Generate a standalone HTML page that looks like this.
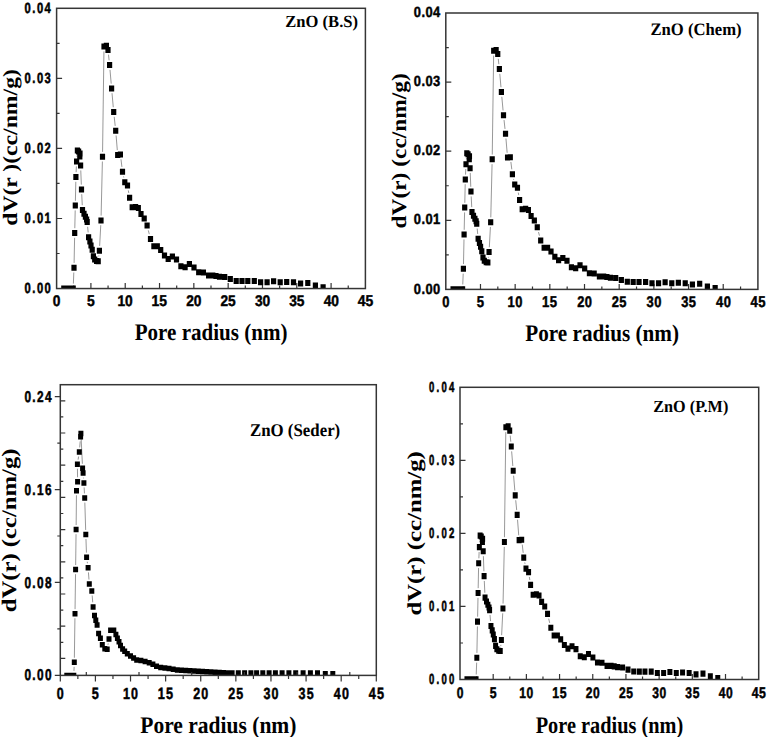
<!DOCTYPE html><html><head><meta charset="utf-8"><style>html,body{margin:0;padding:0;background:#fff;}svg{display:block} text{text-rendering:geometricPrecision}</style></head><body>
<svg width="767" height="737" viewBox="0 0 767 737">
<rect width="767" height="737" fill="#fff"/>
<defs>
<clipPath id="c1"><rect x="56.6" y="8.3" width="308.8" height="280.25"/></clipPath>
<clipPath id="c2"><rect x="445.8" y="13" width="312.1" height="276.4"/></clipPath>
<clipPath id="c3"><rect x="60.3" y="384.7" width="316" height="290.7"/></clipPath>
<clipPath id="c4"><rect x="460" y="387.3" width="298.7" height="292.2"/></clipPath>
</defs>
<path d="M73.76 288.55v-3M90.91 288.55v-5.5M108.07 288.55v-3M125.22 288.55v-5.5M142.38 288.55v-3M159.53 288.55v-5.5M176.69 288.55v-3M193.84 288.55v-5.5M211 288.55v-3M228.16 288.55v-5.5M245.31 288.55v-3M262.47 288.55v-5.5M279.62 288.55v-3M296.78 288.55v-5.5M313.93 288.55v-3M331.09 288.55v-5.5M348.24 288.55v-3M56.6 253.52h3M56.6 218.49h5.5M56.6 183.46h3M56.6 148.43h5.5M56.6 113.39h3M56.6 78.36h5.5M56.6 43.33h3" stroke="#353535" stroke-width="1.2" fill="none"/>
<g clip-path="url(#c1)">
<path d="M73.39 283.6L73.81 272.5M74.1 262.9L74.6 237.8M74.81 228.2L75.19 210.4M75.4 200.8L75.8 181.8M76.12 172.2L76.38 166.4M76.95 156.8L77.05 155.4M80.78 170.4L81.32 184.6M81.73 194.2L82.27 205.2M87.64 226.79L88.16 232.41M98.75 256.41L98.85 255.49M99.65 245.9L100.75 225.2M101.11 215.6L102.39 161.5M102.57 151.9L103.93 51.4M108.5 54.69L109.1 60.31M110.01 69.89L111.19 83.61M112.03 93.19L113.27 107.21M114.21 116.79L115.19 125.91M116.1 135.49L117.3 150.11M120.98 159.29L121.92 166.91M123.54 176.46L123.76 177.44M128.32 190.37L128.78 193.03M148.31 230.34L149.29 234.16" stroke="#8c8c8c" stroke-width="0.9" fill="none"/>
<path d="M61.2 285.4h5.2v6h-5.2zM63.6 285.4h5.2v6h-5.2zM65.9 285.4h5.2v6h-5.2zM68.3 285.4h5.2v6h-5.2zM70.6 285.4h5.2v6h-5.2zM71.4 264.7h5.2v6h-5.2zM72.1 230h5.2v6h-5.2zM72.7 202.6h5.2v6h-5.2zM73.3 174h5.2v6h-5.2zM74 158.6h5.2v6h-5.2zM74.8 147.6h5.2v6h-5.2zM76 148.4h5.2v6h-5.2zM77.4 150.5h5.2v6h-5.2zM77.2 153.6h5.2v6h-5.2zM78 162.6h5.2v6h-5.2zM78.9 186.4h5.2v6h-5.2zM79.9 207h5.2v6h-5.2zM81.4 210.8h5.2v6h-5.2zM82.8 213.8h5.2v6h-5.2zM84 216.5h5.2v6h-5.2zM84.6 219h5.2v6h-5.2zM86 234.2h5.2v6h-5.2zM87.3 238.4h5.2v6h-5.2zM88.4 242.4h5.2v6h-5.2zM89.6 246.8h5.2v6h-5.2zM90.8 253.3h5.2v6h-5.2zM92.1 256.6h5.2v6h-5.2zM94 258h5.2v6h-5.2zM95.6 258.2h5.2v6h-5.2zM96.8 247.7h5.2v6h-5.2zM98.4 217.4h5.2v6h-5.2zM99.9 153.7h5.2v6h-5.2zM101.4 43.6h5.2v6h-5.2zM103.8 42.7h5.2v6h-5.2zM105.4 46.9h5.2v6h-5.2zM107 62.1h5.2v6h-5.2zM109 85.4h5.2v6h-5.2zM111.1 109h5.2v6h-5.2zM113.1 127.7h5.2v6h-5.2zM115.1 151.9h5.2v6h-5.2zM117.8 151.5h5.2v6h-5.2zM119.9 168.7h5.2v6h-5.2zM122.2 179.2h5.2v6h-5.2zM124.9 182.6h5.2v6h-5.2zM127 194.8h5.2v6h-5.2zM129.6 204.3h5.2v6h-5.2zM133 203.9h5.2v6h-5.2zM135.7 205h5.2v6h-5.2zM138.4 211.1h5.2v6h-5.2zM141.6 215.6h5.2v6h-5.2zM144.5 222.6h5.2v6h-5.2zM147.9 235.9h5.2v6h-5.2zM151.3 243.3h5.2v6h-5.2zM154.7 243.3h5.2v6h-5.2zM158.1 247.1h5.2v6h-5.2zM161.9 252.5h5.2v6h-5.2zM165.6 255.9h5.2v6h-5.2zM169.8 253.6h5.2v6h-5.2zM173.9 256.4h5.2v6h-5.2zM178.3 263.2h5.2v6h-5.2zM182.5 264.2h5.2v6h-5.2zM186.8 261.1h5.2v6h-5.2zM191.4 264.4h5.2v6h-5.2zM196.1 269.3h5.2v6h-5.2zM200.8 269.5h5.2v6h-5.2zM206 272.5h5.2v6h-5.2zM210.2 272.5h5.2v6h-5.2zM213.4 273h5.2v6h-5.2zM216.9 273.7h5.2v6h-5.2zM222.1 274h5.2v6h-5.2zM227.7 276.1h5.2v6h-5.2zM233.6 277.9h5.2v6h-5.2zM239.4 278h5.2v6h-5.2zM245.2 278h5.2v6h-5.2zM251.7 278h5.2v6h-5.2zM258 279.3h5.2v6h-5.2zM264.5 279.3h5.2v6h-5.2zM271 278.3h5.2v6h-5.2zM277.6 279.3h5.2v6h-5.2zM284.1 278.9h5.2v6h-5.2zM290.9 279.3h5.2v6h-5.2zM298 280.6h5.2v6h-5.2zM305.2 279.9h5.2v6h-5.2zM312.8 282.6h5.2v6h-5.2zM320.5 284.2h5.2v6h-5.2z" fill="#000"/>
</g>
<rect x="56.6" y="8.3" width="308.8" height="280.25" fill="none" stroke="#353535" stroke-width="1.5"/>
<text transform="translate(52.78,306.47) scale(0.892,1)" font-family='"Liberation Sans", sans-serif' font-weight="bold" font-size="15.42" letter-spacing="-0.21" stroke="#000" stroke-width="0.45">0</text>
<text transform="translate(87.01,306.47) scale(0.892,1)" font-family='"Liberation Sans", sans-serif' font-weight="bold" font-size="15.64" letter-spacing="-0.21" stroke="#000" stroke-width="0.45">5</text>
<text transform="translate(117.51,306.47) scale(0.892,1)" font-family='"Liberation Sans", sans-serif' font-weight="bold" font-size="15.42" letter-spacing="-0.21" stroke="#000" stroke-width="0.45">10</text>
<text transform="translate(151.61,306.47) scale(0.892,1)" font-family='"Liberation Sans", sans-serif' font-weight="bold" font-size="15.64" letter-spacing="-0.21" stroke="#000" stroke-width="0.45">15</text>
<text transform="translate(186.34,306.47) scale(0.892,1)" font-family='"Liberation Sans", sans-serif' font-weight="bold" font-size="15.42" letter-spacing="-0.21" stroke="#000" stroke-width="0.45">20</text>
<text transform="translate(220.55,306.47) scale(0.892,1)" font-family='"Liberation Sans", sans-serif' font-weight="bold" font-size="15.42" letter-spacing="-0.21" stroke="#000" stroke-width="0.45">25</text>
<text transform="translate(255.03,306.47) scale(0.892,1)" font-family='"Liberation Sans", sans-serif' font-weight="bold" font-size="15.42" letter-spacing="-0.21" stroke="#000" stroke-width="0.45">30</text>
<text transform="translate(289.24,306.47) scale(0.892,1)" font-family='"Liberation Sans", sans-serif' font-weight="bold" font-size="15.42" letter-spacing="-0.21" stroke="#000" stroke-width="0.45">35</text>
<text transform="translate(323.72,306.47) scale(0.892,1)" font-family='"Liberation Sans", sans-serif' font-weight="bold" font-size="15.42" letter-spacing="-0.21" stroke="#000" stroke-width="0.45">40</text>
<text transform="translate(357.82,306.47) scale(0.892,1)" font-family='"Liberation Sans", sans-serif' font-weight="bold" font-size="15.64" letter-spacing="-0.21" stroke="#000" stroke-width="0.45">45</text>
<text transform="translate(24.6,292.89) scale(0.761,1)" font-family='"Liberation Sans", sans-serif' font-weight="bold" font-size="14.75" letter-spacing="1.93" stroke="#000" stroke-width="0.53">0.00</text>
<text transform="translate(24.6,222.83) scale(0.761,1)" font-family='"Liberation Sans", sans-serif' font-weight="bold" font-size="14.75" letter-spacing="1.93" stroke="#000" stroke-width="0.53">0.01</text>
<text transform="translate(24.6,152.76) scale(0.761,1)" font-family='"Liberation Sans", sans-serif' font-weight="bold" font-size="14.75" letter-spacing="1.93" stroke="#000" stroke-width="0.53">0.02</text>
<text transform="translate(24.6,82.7) scale(0.761,1)" font-family='"Liberation Sans", sans-serif' font-weight="bold" font-size="14.75" letter-spacing="1.93" stroke="#000" stroke-width="0.53">0.03</text>
<text transform="translate(24.6,12.64) scale(0.761,1)" font-family='"Liberation Sans", sans-serif' font-weight="bold" font-size="14.75" letter-spacing="1.93" stroke="#000" stroke-width="0.53">0.04</text>
<text transform="translate(134.68,340) scale(0.885,1)" font-family='"Liberation Serif", serif' font-weight="bold" font-size="23.80">Pore radius (nm)</text>
<text transform="translate(16.8,225.75) rotate(-90) scale(0.2366,0.2044)" font-family='"Liberation Serif", serif' font-weight="bold" font-size="100">dV(r )(cc/nm/g)</text>
<text transform="translate(285.27,26.6) scale(0.975,1)" font-family='"Liberation Serif", serif' font-weight="bold" font-size="17.00">ZnO (B.S)</text>
<path d="M463.14 289.4v-3M480.48 289.4v-5.5M497.82 289.4v-3M515.16 289.4v-5.5M532.49 289.4v-3M549.83 289.4v-5.5M567.17 289.4v-3M584.51 289.4v-5.5M601.85 289.4v-3M619.19 289.4v-5.5M636.53 289.4v-3M653.87 289.4v-5.5M671.21 289.4v-3M688.54 289.4v-5.5M705.88 289.4v-3M723.22 289.4v-5.5M740.56 289.4v-3M445.8 254.85h3M445.8 220.3h5.5M445.8 185.75h3M445.8 151.2h5.5M445.8 116.65h3M445.8 82.1h5.5M445.8 47.55h3" stroke="#353535" stroke-width="1.2" fill="none"/>
<g clip-path="url(#c2)">
<path d="M462.77 284.45L463.2 273.64M463.49 264.04L463.99 239.41M464.2 229.81L464.59 212.39M464.8 202.79L465.2 184.18M465.53 174.58L465.79 168.99M466.37 159.4L466.46 158.14M470.24 172.94L470.78 186.81M471.2 196.41L471.74 207.13M477.18 228.56L477.69 233.96M488.41 257.64L488.5 256.86M489.32 247.27L490.41 226.98M490.79 217.39L492.07 164.16M492.26 154.56L493.64 55.57M498.27 58.82L498.85 64.23M499.79 73.81L500.97 87.21M501.82 96.79L503.07 110.48M504.04 120.06L505.01 128.93M505.94 138.51L507.15 152.79M510.88 161.98L511.81 169.37M513.47 178.91L513.66 179.75M518.3 192.64L518.74 195.12M538.51 232.06L539.46 235.69" stroke="#8c8c8c" stroke-width="0.9" fill="none"/>
<path d="M450.48 286.25h5.2v6h-5.2zM452.9 286.25h5.2v6h-5.2zM455.23 286.25h5.2v6h-5.2zM457.65 286.25h5.2v6h-5.2zM459.98 286.25h5.2v6h-5.2zM460.79 265.84h5.2v6h-5.2zM461.49 231.61h5.2v6h-5.2zM462.1 204.59h5.2v6h-5.2zM462.71 176.38h5.2v6h-5.2zM463.41 161.19h5.2v6h-5.2zM464.22 150.35h5.2v6h-5.2zM465.44 151.13h5.2v6h-5.2zM466.85 153.21h5.2v6h-5.2zM466.65 156.26h5.2v6h-5.2zM467.46 165.14h5.2v6h-5.2zM468.37 188.61h5.2v6h-5.2zM469.38 208.93h5.2v6h-5.2zM470.89 212.68h5.2v6h-5.2zM472.31 215.64h5.2v6h-5.2zM473.52 218.3h5.2v6h-5.2zM474.13 220.76h5.2v6h-5.2zM475.54 235.76h5.2v6h-5.2zM476.86 239.9h5.2v6h-5.2zM477.97 243.84h5.2v6h-5.2zM479.18 248.18h5.2v6h-5.2zM480.39 254.59h5.2v6h-5.2zM481.71 257.85h5.2v6h-5.2zM483.63 259.23h5.2v6h-5.2zM485.24 259.43h5.2v6h-5.2zM486.46 249.07h5.2v6h-5.2zM488.07 219.19h5.2v6h-5.2zM489.59 156.36h5.2v6h-5.2zM491.11 47.77h5.2v6h-5.2zM493.53 46.89h5.2v6h-5.2zM495.15 51.03h5.2v6h-5.2zM496.77 66.02h5.2v6h-5.2zM498.79 89h5.2v6h-5.2zM500.91 112.28h5.2v6h-5.2zM502.93 130.72h5.2v6h-5.2zM504.95 154.59h5.2v6h-5.2zM507.68 154.19h5.2v6h-5.2zM509.8 171.16h5.2v6h-5.2zM512.13 181.51h5.2v6h-5.2zM514.86 184.86h5.2v6h-5.2zM516.98 196.9h5.2v6h-5.2zM519.61 206.27h5.2v6h-5.2zM523.04 205.87h5.2v6h-5.2zM525.77 206.96h5.2v6h-5.2zM528.5 212.97h5.2v6h-5.2zM531.74 217.41h5.2v6h-5.2zM534.67 224.31h5.2v6h-5.2zM538.1 237.43h5.2v6h-5.2zM541.54 244.73h5.2v6h-5.2zM544.98 244.73h5.2v6h-5.2zM548.41 248.48h5.2v6h-5.2zM552.25 253.8h5.2v6h-5.2zM555.99 257.16h5.2v6h-5.2zM560.24 254.89h5.2v6h-5.2zM564.38 257.65h5.2v6h-5.2zM568.83 264.36h5.2v6h-5.2zM573.07 265.34h5.2v6h-5.2zM577.42 262.29h5.2v6h-5.2zM582.07 265.54h5.2v6h-5.2zM586.82 270.37h5.2v6h-5.2zM591.57 270.57h5.2v6h-5.2zM596.82 273.53h5.2v6h-5.2zM601.07 273.53h5.2v6h-5.2zM604.3 274.02h5.2v6h-5.2zM607.84 274.71h5.2v6h-5.2zM613.1 275.01h5.2v6h-5.2zM618.76 277.08h5.2v6h-5.2zM624.72 278.86h5.2v6h-5.2zM630.58 278.95h5.2v6h-5.2zM636.44 278.95h5.2v6h-5.2zM643.01 278.95h5.2v6h-5.2zM649.38 280.24h5.2v6h-5.2zM655.95 280.24h5.2v6h-5.2zM662.52 279.25h5.2v6h-5.2zM669.19 280.24h5.2v6h-5.2zM675.76 279.84h5.2v6h-5.2zM682.63 280.24h5.2v6h-5.2zM689.81 281.52h5.2v6h-5.2zM697.08 280.83h5.2v6h-5.2zM704.77 283.49h5.2v6h-5.2zM712.55 285.07h5.2v6h-5.2z" fill="#000"/>
</g>
<rect x="445.8" y="13" width="312.1" height="276.4" fill="none" stroke="#353535" stroke-width="1.5"/>
<text transform="translate(442.22,307.06) scale(0.839,1)" font-family='"Liberation Sans", sans-serif' font-weight="bold" font-size="15.38" letter-spacing="0.55" stroke="#000" stroke-width="0.48">0</text>
<text transform="translate(476.81,307.06) scale(0.839,1)" font-family='"Liberation Sans", sans-serif' font-weight="bold" font-size="15.60" letter-spacing="0.55" stroke="#000" stroke-width="0.48">5</text>
<text transform="translate(507.6,307.06) scale(0.839,1)" font-family='"Liberation Sans", sans-serif' font-weight="bold" font-size="15.38" letter-spacing="0.55" stroke="#000" stroke-width="0.48">10</text>
<text transform="translate(542.07,307.06) scale(0.839,1)" font-family='"Liberation Sans", sans-serif' font-weight="bold" font-size="15.60" letter-spacing="0.55" stroke="#000" stroke-width="0.48">15</text>
<text transform="translate(577.15,307.06) scale(0.839,1)" font-family='"Liberation Sans", sans-serif' font-weight="bold" font-size="15.38" letter-spacing="0.55" stroke="#000" stroke-width="0.48">20</text>
<text transform="translate(611.73,307.06) scale(0.839,1)" font-family='"Liberation Sans", sans-serif' font-weight="bold" font-size="15.38" letter-spacing="0.55" stroke="#000" stroke-width="0.48">25</text>
<text transform="translate(646.57,307.06) scale(0.839,1)" font-family='"Liberation Sans", sans-serif' font-weight="bold" font-size="15.38" letter-spacing="0.55" stroke="#000" stroke-width="0.48">30</text>
<text transform="translate(681.15,307.06) scale(0.839,1)" font-family='"Liberation Sans", sans-serif' font-weight="bold" font-size="15.38" letter-spacing="0.55" stroke="#000" stroke-width="0.48">35</text>
<text transform="translate(715.99,307.06) scale(0.839,1)" font-family='"Liberation Sans", sans-serif' font-weight="bold" font-size="15.38" letter-spacing="0.55" stroke="#000" stroke-width="0.48">40</text>
<text transform="translate(750.47,307.06) scale(0.839,1)" font-family='"Liberation Sans", sans-serif' font-weight="bold" font-size="15.60" letter-spacing="0.55" stroke="#000" stroke-width="0.48">45</text>
<text transform="translate(413.83,293.52) scale(0.870,1)" font-family='"Liberation Sans", sans-serif' font-weight="bold" font-size="14.85" letter-spacing="0.49" stroke="#000" stroke-width="0.46">0.00</text>
<text transform="translate(413.83,224.42) scale(0.870,1)" font-family='"Liberation Sans", sans-serif' font-weight="bold" font-size="14.85" letter-spacing="0.49" stroke="#000" stroke-width="0.46">0.01</text>
<text transform="translate(413.83,155.32) scale(0.870,1)" font-family='"Liberation Sans", sans-serif' font-weight="bold" font-size="14.85" letter-spacing="0.49" stroke="#000" stroke-width="0.46">0.02</text>
<text transform="translate(413.83,86.22) scale(0.870,1)" font-family='"Liberation Sans", sans-serif' font-weight="bold" font-size="14.85" letter-spacing="0.49" stroke="#000" stroke-width="0.46">0.03</text>
<text transform="translate(413.83,17.12) scale(0.870,1)" font-family='"Liberation Sans", sans-serif' font-weight="bold" font-size="14.85" letter-spacing="0.49" stroke="#000" stroke-width="0.46">0.04</text>
<text transform="translate(525.28,340.5) scale(0.890,1)" font-family='"Liberation Serif", serif' font-weight="bold" font-size="23.80">Pore radius (nm)</text>
<text transform="translate(405.53,228.43) rotate(-90) scale(0.2337,0.2077)" font-family='"Liberation Serif", serif' font-weight="bold" font-size="100">dV(r) (cc/nm/g)</text>
<text transform="translate(650.47,35) scale(0.957,1)" font-family='"Liberation Serif", serif' font-weight="bold" font-size="17.40">ZnO (Chem)</text>
<g clip-path="url(#c3)">
<path d="M73.97 670.85L74.13 666.85M74.37 657.75L74.93 618.25M75.06 609.15L75.54 574.15M75.66 565.05L76.04 534.15M76.15 525.05L76.45 495.25M77.55 477.25L77.45 468.75M78.11 459.67L78.59 456.53M79.69 447.46L80.21 441.34M81.12 438.15L82.38 463.75M83.47 477.64L83.53 478.36M84.14 487.45L84.46 493.45M84.84 502.55L85.66 529.95M85.96 539.05L86.44 552.65M87.24 561.73L87.46 563.27M88.43 572.35L88.97 579.55M92.17 595.44L92.73 602.36M107.98 644.78L108.22 643.42" stroke="#8c8c8c" stroke-width="0.9" fill="none"/>
<path d="M64.3 672.65h5v5.5h-5zM66.1 672.65h5v5.5h-5zM67.9 672.65h5v5.5h-5zM69.7 672.65h5v5.5h-5zM71.3 672.65h5v5.5h-5zM71.8 659.55h5v5.5h-5zM72.5 610.95h5v5.5h-5zM73.1 566.85h5v5.5h-5zM73.6 526.85h5v5.5h-5zM74 487.95h5v5.5h-5zM75.1 479.05h5v5.5h-5zM74.9 461.45h5v5.5h-5zM76.8 449.25h5v5.5h-5zM78.1 434.05h5v5.5h-5zM78.4 430.85h5v5.5h-5zM80.1 465.55h5v5.5h-5zM80.6 470.35h5v5.5h-5zM81.4 480.15h5v5.5h-5zM82.2 495.25h5v5.5h-5zM83.3 531.75h5v5.5h-5zM84.1 554.45h5v5.5h-5zM85.6 565.05h5v5.5h-5zM86.8 581.35h5v5.5h-5zM89.3 588.15h5v5.5h-5zM90.6 604.15h5v5.5h-5zM92 612.65h5v5.5h-5zM93.3 617.55h5v5.5h-5zM94.6 622.35h5v5.5h-5zM96.1 630.85h5v5.5h-5zM97.9 635.45h5v5.5h-5zM99.8 641.95h5v5.5h-5zM102.3 646.05h5v5.5h-5zM104.7 646.55h5v5.5h-5zM106.5 636.15h5v5.5h-5zM108.1 627.55h5v5.5h-5zM111.3 627.55h5v5.5h-5zM113.4 631.75h5v5.5h-5zM114.9 635.45h5v5.5h-5zM116.5 639.05h5v5.5h-5zM118 642.75h5v5.5h-5zM120.1 646.35h5v5.5h-5zM122.2 648.45h5v5.5h-5zM124.8 651.05h5v5.5h-5zM128 653.15h5v5.5h-5zM131.1 655.25h5v5.5h-5zM134.2 657.35h5v5.5h-5zM138.4 657.85h5v5.5h-5zM142.6 658.85h5v5.5h-5zM146.7 659.95h5v5.5h-5zM150.4 661.45h5v5.5h-5zM154 663.55h5v5.5h-5zM158.2 664.65h5v5.5h-5zM162.4 665.15h5v5.5h-5zM166.5 665.85h5v5.5h-5zM170.7 666.55h5v5.5h-5zM174.8 667.25h5v5.5h-5zM179 667.49h5v5.5h-5zM183.2 667.74h5v5.5h-5zM187.4 667.98h5v5.5h-5zM191.6 668.22h5v5.5h-5zM195.8 668.47h5v5.5h-5zM200 668.71h5v5.5h-5zM204.2 668.96h5v5.5h-5zM208.4 669.2h5v5.5h-5zM212.6 669.44h5v5.5h-5zM216.8 669.69h5v5.5h-5zM221 669.93h5v5.5h-5zM225.2 670.17h5v5.5h-5zM229.6 670.25h5v5.5h-5zM235.8 670.25h5v5.5h-5zM242.1 670.25h5v5.5h-5zM248.4 670.25h5v5.5h-5zM254.1 670.25h5v5.5h-5zM260.3 670.25h5v5.5h-5zM266.6 670.25h5v5.5h-5zM272.9 670.25h5v5.5h-5zM279.6 670.25h5v5.5h-5zM286.4 670.25h5v5.5h-5zM293.2 670.25h5v5.5h-5zM300.6 670.25h5v5.5h-5zM307.9 670.25h5v5.5h-5zM315 670.25h5v5.5h-5zM322.8 671.05h5v5.5h-5zM330.3 671.05h5v5.5h-5z" fill="#000"/>
</g>
<rect x="60.3" y="384.7" width="316" height="290.7" fill="none" stroke="#353535" stroke-width="1.5"/>
<path d="M60.3 675.4v6.2M77.86 675.4v3.5M95.41 675.4v6.2M112.97 675.4v3.5M130.52 675.4v6.2M148.08 675.4v3.5M165.63 675.4v6.2M183.19 675.4v3.5M200.74 675.4v6.2M218.3 675.4v3.5M235.86 675.4v6.2M253.41 675.4v3.5M270.97 675.4v6.2M288.52 675.4v3.5M306.08 675.4v6.2M323.63 675.4v3.5M341.19 675.4v6.2M358.74 675.4v3.5M376.3 675.4v6.2M86.3 675.4v-3.5M139 675.4v-3.5M191.7 675.4v-3.5M244.4 675.4v-3.5M297.1 675.4v-3.5M349.8 675.4v-3.5M60.3 675.4h-5.5M60.3 582.47h-5.5M60.3 489.53h-5.5M60.3 396.6h-5.5M60.3 628.93h-3M60.3 536h-3M60.3 443.07h-3M60.3 400.8h5M60.3 416.9h3M60.3 433h5M60.3 449.1h3M60.3 465.2h5M60.3 481.3h3M60.3 497.4h5M60.3 513.5h3M60.3 529.6h5M60.3 545.7h3M60.3 561.8h5M60.3 577.9h3M60.3 594h5M60.3 610.1h3M60.3 626.2h5M60.3 642.3h3M60.3 658.4h5" stroke="#353535" stroke-width="1.2" fill="none"/>
<text transform="translate(56.83,698.58) scale(0.772,1)" font-family='"Liberation Sans", sans-serif' font-weight="bold" font-size="16.17" letter-spacing="1.40" stroke="#000" stroke-width="0.52">0</text>
<text transform="translate(91.86,698.58) scale(0.772,1)" font-family='"Liberation Sans", sans-serif' font-weight="bold" font-size="16.40" letter-spacing="1.40" stroke="#000" stroke-width="0.52">5</text>
<text transform="translate(122.89,698.58) scale(0.772,1)" font-family='"Liberation Sans", sans-serif' font-weight="bold" font-size="16.17" letter-spacing="1.40" stroke="#000" stroke-width="0.52">10</text>
<text transform="translate(157.81,698.58) scale(0.772,1)" font-family='"Liberation Sans", sans-serif' font-weight="bold" font-size="16.40" letter-spacing="1.40" stroke="#000" stroke-width="0.52">15</text>
<text transform="translate(193.3,698.58) scale(0.772,1)" font-family='"Liberation Sans", sans-serif' font-weight="bold" font-size="16.17" letter-spacing="1.40" stroke="#000" stroke-width="0.52">20</text>
<text transform="translate(228.32,698.58) scale(0.772,1)" font-family='"Liberation Sans", sans-serif' font-weight="bold" font-size="16.17" letter-spacing="1.40" stroke="#000" stroke-width="0.52">25</text>
<text transform="translate(263.59,698.58) scale(0.772,1)" font-family='"Liberation Sans", sans-serif' font-weight="bold" font-size="16.17" letter-spacing="1.40" stroke="#000" stroke-width="0.52">30</text>
<text transform="translate(298.61,698.58) scale(0.772,1)" font-family='"Liberation Sans", sans-serif' font-weight="bold" font-size="16.17" letter-spacing="1.40" stroke="#000" stroke-width="0.52">35</text>
<text transform="translate(333.87,698.58) scale(0.772,1)" font-family='"Liberation Sans", sans-serif' font-weight="bold" font-size="16.17" letter-spacing="1.40" stroke="#000" stroke-width="0.52">40</text>
<text transform="translate(368.79,698.58) scale(0.772,1)" font-family='"Liberation Sans", sans-serif' font-weight="bold" font-size="16.40" letter-spacing="1.40" stroke="#000" stroke-width="0.52">45</text>
<text transform="translate(24.38,680.48) scale(0.760,1)" font-family='"Liberation Sans", sans-serif' font-weight="bold" font-size="15.60" letter-spacing="1.81" stroke="#000" stroke-width="0.53">0.00</text>
<text transform="translate(24.38,587.55) scale(0.760,1)" font-family='"Liberation Sans", sans-serif' font-weight="bold" font-size="15.60" letter-spacing="1.81" stroke="#000" stroke-width="0.53">0.08</text>
<text transform="translate(24.38,494.61) scale(0.760,1)" font-family='"Liberation Sans", sans-serif' font-weight="bold" font-size="15.60" letter-spacing="1.81" stroke="#000" stroke-width="0.53">0.16</text>
<text transform="translate(24.38,401.68) scale(0.760,1)" font-family='"Liberation Sans", sans-serif' font-weight="bold" font-size="15.60" letter-spacing="1.81" stroke="#000" stroke-width="0.53">0.24</text>
<text transform="translate(140.28,732.7) scale(0.904,1)" font-family='"Liberation Serif", serif' font-weight="bold" font-size="23.80">Pore radius (nm)</text>
<text transform="translate(15.85,612.29) rotate(-90) scale(0.2467,0.2066)" font-family='"Liberation Serif", serif' font-weight="bold" font-size="100">dV(r) (cc/nm/g)</text>
<text transform="translate(249.96,436.1) scale(0.941,1)" font-family='"Liberation Serif", serif' font-weight="bold" font-size="17.90">ZnO (Seder)</text>
<path d="M476.59 679.5v-3M493.19 679.5v-5.5M509.78 679.5v-3M526.38 679.5v-5.5M542.97 679.5v-3M559.57 679.5v-5.5M576.16 679.5v-3M592.76 679.5v-5.5M609.35 679.5v-3M625.94 679.5v-5.5M642.54 679.5v-3M659.13 679.5v-5.5M675.73 679.5v-3M692.32 679.5v-5.5M708.92 679.5v-3M725.51 679.5v-5.5M742.11 679.5v-3M460 642.98h3M460 606.45h5.5M460 569.92h3M460 533.4h5.5M460 496.88h3M460 460.35h5.5M460 423.82h3" stroke="#353535" stroke-width="1.2" fill="none"/>
<g clip-path="url(#c4)">
<path d="M476.23 674.49L476.66 662.61M476.92 652.91L477.42 626.43M477.61 616.73L477.99 597.86M478.18 588.16L478.57 568.04M478.87 558.35L479.14 551.99M479.67 542.29L479.79 540.51M483.39 556.16L483.92 571.27M484.3 580.97L484.83 592.75M490.01 614.96L490.54 621.12M500.75 646.14L500.89 644.88M501.64 635.19L502.71 613.29M503.05 603.59L504.29 546.88M504.46 537.18L505.79 432.08M510.19 435.52L510.79 441.68M511.65 451.37L512.82 465.97M513.6 475.66L514.83 490.58M515.71 500.26L516.69 510.08M517.54 519.76L518.73 535.31M522.26 544.57L523.2 552.83M524.72 562.48L524.99 563.8M529.35 576.99L529.84 580.05M548.68 618.67L549.69 622.93" stroke="#8c8c8c" stroke-width="0.9" fill="none"/>
<path d="M464.46 676.29h5v6.1h-5zM466.79 676.29h5v6.1h-5zM469.01 676.29h5v6.1h-5zM471.33 676.29h5v6.1h-5zM473.56 676.29h5v6.1h-5zM474.33 654.71h5v6.1h-5zM475.01 618.53h5v6.1h-5zM475.59 589.96h5v6.1h-5zM476.17 560.14h5v6.1h-5zM476.85 544.09h5v6.1h-5zM477.62 532.62h5v6.1h-5zM478.78 533.45h5v6.1h-5zM480.13 535.64h5v6.1h-5zM479.94 538.87h5v6.1h-5zM480.72 548.26h5v6.1h-5zM481.59 573.07h5v6.1h-5zM482.55 594.55h5v6.1h-5zM484 598.51h5v6.1h-5zM485.36 601.64h5v6.1h-5zM486.52 604.46h5v6.1h-5zM487.1 607.06h5v6.1h-5zM488.45 622.91h5v6.1h-5zM489.71 627.29h5v6.1h-5zM490.77 631.46h5v6.1h-5zM491.94 636.05h5v6.1h-5zM493.1 642.82h5v6.1h-5zM494.35 646.27h5v6.1h-5zM496.19 647.73h5v6.1h-5zM497.74 647.93h5v6.1h-5zM498.9 636.99h5v6.1h-5zM500.45 605.39h5v6.1h-5zM501.9 538.98h5v6.1h-5zM503.35 424.18h5v6.1h-5zM505.67 423.24h5v6.1h-5zM507.22 427.62h5v6.1h-5zM508.77 443.47h5v6.1h-5zM510.7 467.77h5v6.1h-5zM512.73 492.37h5v6.1h-5zM514.67 511.87h5v6.1h-5zM516.6 537.1h5v6.1h-5zM519.21 536.68h5v6.1h-5zM521.24 554.62h5v6.1h-5zM523.47 565.57h5v6.1h-5zM526.08 569.11h5v6.1h-5zM528.11 581.83h5v6.1h-5zM530.63 591.74h5v6.1h-5zM533.92 591.32h5v6.1h-5zM536.53 592.47h5v6.1h-5zM539.14 598.83h5v6.1h-5zM542.23 603.52h5v6.1h-5zM545.04 610.82h5v6.1h-5zM548.33 624.68h5v6.1h-5zM551.62 632.4h5v6.1h-5zM554.91 632.4h5v6.1h-5zM558.2 636.36h5v6.1h-5zM561.87 641.99h5v6.1h-5zM565.45 645.54h5v6.1h-5zM569.51 643.14h5v6.1h-5zM573.48 646.06h5v6.1h-5zM577.73 653.15h5v6.1h-5zM581.8 654.19h5v6.1h-5zM585.96 650.96h5v6.1h-5zM590.41 654.4h5v6.1h-5zM594.95 659.51h5v6.1h-5zM599.5 659.72h5v6.1h-5zM604.53 662.84h5v6.1h-5zM608.59 662.84h5v6.1h-5zM611.69 663.36h5v6.1h-5zM615.07 664.09h5v6.1h-5zM620.1 664.41h5v6.1h-5zM625.52 666.6h5v6.1h-5zM631.23 668.47h5v6.1h-5zM636.84 668.58h5v6.1h-5zM642.45 668.58h5v6.1h-5zM648.73 668.58h5v6.1h-5zM654.83 669.93h5v6.1h-5zM661.12 669.93h5v6.1h-5zM667.4 668.89h5v6.1h-5zM673.79 669.93h5v6.1h-5zM680.07 669.52h5v6.1h-5zM686.65 669.93h5v6.1h-5zM693.52 671.29h5v6.1h-5zM700.48 670.56h5v6.1h-5zM707.84 673.37h5v6.1h-5zM715.28 675.04h5v6.1h-5z" fill="#000"/>
</g>
<rect x="460" y="387.3" width="298.7" height="292.2" fill="none" stroke="#353535" stroke-width="1.5"/>
<text transform="translate(456.65,697.89) scale(0.787,1)" font-family='"Liberation Sans", sans-serif' font-weight="bold" font-size="15.34" letter-spacing="0.77" stroke="#000" stroke-width="0.51">0</text>
<text transform="translate(489.76,697.89) scale(0.787,1)" font-family='"Liberation Sans", sans-serif' font-weight="bold" font-size="15.56" letter-spacing="0.77" stroke="#000" stroke-width="0.51">5</text>
<text transform="translate(519.23,697.89) scale(0.787,1)" font-family='"Liberation Sans", sans-serif' font-weight="bold" font-size="15.34" letter-spacing="0.77" stroke="#000" stroke-width="0.51">10</text>
<text transform="translate(552.23,697.89) scale(0.787,1)" font-family='"Liberation Sans", sans-serif' font-weight="bold" font-size="15.56" letter-spacing="0.77" stroke="#000" stroke-width="0.51">15</text>
<text transform="translate(585.79,697.89) scale(0.787,1)" font-family='"Liberation Sans", sans-serif' font-weight="bold" font-size="15.34" letter-spacing="0.77" stroke="#000" stroke-width="0.51">20</text>
<text transform="translate(618.88,697.89) scale(0.787,1)" font-family='"Liberation Sans", sans-serif' font-weight="bold" font-size="15.34" letter-spacing="0.77" stroke="#000" stroke-width="0.51">25</text>
<text transform="translate(652.22,697.89) scale(0.787,1)" font-family='"Liberation Sans", sans-serif' font-weight="bold" font-size="15.34" letter-spacing="0.77" stroke="#000" stroke-width="0.51">30</text>
<text transform="translate(685.32,697.89) scale(0.787,1)" font-family='"Liberation Sans", sans-serif' font-weight="bold" font-size="15.34" letter-spacing="0.77" stroke="#000" stroke-width="0.51">35</text>
<text transform="translate(718.66,697.89) scale(0.787,1)" font-family='"Liberation Sans", sans-serif' font-weight="bold" font-size="15.34" letter-spacing="0.77" stroke="#000" stroke-width="0.51">40</text>
<text transform="translate(751.67,697.89) scale(0.787,1)" font-family='"Liberation Sans", sans-serif' font-weight="bold" font-size="15.56" letter-spacing="0.77" stroke="#000" stroke-width="0.51">45</text>
<text transform="translate(428.97,684.05) scale(0.652,1)" font-family='"Liberation Sans", sans-serif' font-weight="bold" font-size="14.63" letter-spacing="3.45" stroke="#000" stroke-width="0.61">0.00</text>
<text transform="translate(428.97,611) scale(0.652,1)" font-family='"Liberation Sans", sans-serif' font-weight="bold" font-size="14.63" letter-spacing="3.45" stroke="#000" stroke-width="0.61">0.01</text>
<text transform="translate(428.97,537.95) scale(0.652,1)" font-family='"Liberation Sans", sans-serif' font-weight="bold" font-size="14.63" letter-spacing="3.45" stroke="#000" stroke-width="0.61">0.02</text>
<text transform="translate(428.97,464.9) scale(0.652,1)" font-family='"Liberation Sans", sans-serif' font-weight="bold" font-size="14.63" letter-spacing="3.45" stroke="#000" stroke-width="0.61">0.03</text>
<text transform="translate(428.97,391.85) scale(0.652,1)" font-family='"Liberation Sans", sans-serif' font-weight="bold" font-size="14.63" letter-spacing="3.45" stroke="#000" stroke-width="0.61">0.04</text>
<text transform="translate(535.7,732.5) scale(0.854,1)" font-family='"Liberation Serif", serif' font-weight="bold" font-size="23.80">Pore radius (nm)</text>
<text transform="translate(421.05,615.59) rotate(-90) scale(0.2477,0.1978)" font-family='"Liberation Serif", serif' font-weight="bold" font-size="100">dV(r) (cc/nm/g)</text>
<text transform="translate(653.29,411.5) scale(0.953,1)" font-family='"Liberation Serif", serif' font-weight="bold" font-size="17.00">ZnO (P.M)</text>
</svg></body></html>
